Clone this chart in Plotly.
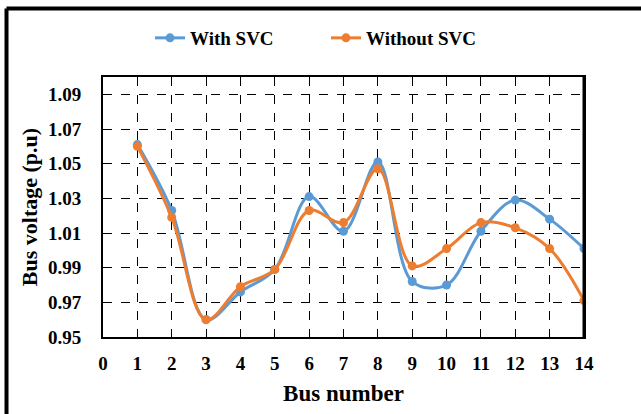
import plotly.graph_objects as go

bus = [1, 2, 3, 4, 5, 6, 7, 8, 9, 10, 11, 12, 13, 14]
with_svc = [1.061, 1.023, 0.960, 0.976, 0.989, 1.031, 1.011, 1.051, 0.982, 0.980, 1.011, 1.029, 1.018, 1.001]
without_svc = [1.060, 1.019, 0.960, 0.979, 0.989, 1.023, 1.016, 1.047, 0.991, 1.001, 1.016, 1.013, 1.001, 0.971]
x_ticks = list(range(0, 15))
y_ticks = [0.95, 0.97, 0.99, 1.01, 1.03, 1.05, 1.07, 1.09]

FONT = "Liberation Serif"
BLUE = "#5B9BD5"
ORANGE = "#ED7D31"

fig = go.Figure()
fig.add_trace(go.Scatter(x=bus, y=with_svc, name="<b>With SVC</b>", mode="lines+markers",
                         line=dict(color=BLUE, width=3, shape="spline", smoothing=1.0),
                         marker=dict(color=BLUE, size=9)))
fig.add_trace(go.Scatter(x=bus, y=without_svc, name="<b>Without SVC</b>", mode="lines+markers",
                         line=dict(color=ORANGE, width=3, shape="spline", smoothing=1.0),
                         marker=dict(color=ORANGE, size=9)))

L, R, T, B = 103, 584, 77, 337
W, H = 641, 414
pw, ph = R - L, B - T

def px(xp):
    return (xp - L) / pw

def py(yp):
    return (B - yp) / ph

fig.update_layout(
    width=W, height=H,
    margin=dict(l=L, r=W - R, t=T, b=H - B),
    paper_bgcolor="white", plot_bgcolor="white",
    font=dict(family=FONT, color="black"),
    showlegend=True,
    legend=dict(orientation="h", x=px(150), y=py(38), xanchor="left", yanchor="middle",
                font=dict(family=FONT, size=19, color="black"),
                itemwidth=30, entrywidth=131, entrywidthmode="pixels",
                bgcolor="rgba(0,0,0,0)"),
    xaxis=dict(range=[0, 14], tickmode="array", tickvals=x_ticks,
               ticktext=[f"<b>{v}</b>" for v in x_ticks],
               tickfont=dict(family=FONT, size=19, color="black"),
               showgrid=True, gridcolor="black", griddash="dash", gridwidth=1,
               zeroline=False, showline=True, linecolor="black", linewidth=2, mirror=True,
               ticks="", ticklabelstandoff=8,
               title=dict(text="<b>Bus number</b>", font=dict(family=FONT, size=23, color="black"), standoff=12)),
    yaxis=dict(range=[0.95, 1.10], tickmode="array", tickvals=y_ticks,
               ticktext=[f"<b>{v:.2f}</b>" for v in y_ticks],
               tickfont=dict(family=FONT, size=19, color="black"),
               showgrid=True, gridcolor="black", griddash="dash", gridwidth=1,
               zeroline=False, showline=True, linecolor="black", linewidth=2, mirror=True,
               ticks="", ticklabelstandoff=16,
               title=dict(text="<b>Bus voltage (p.u)</b>", font=dict(family=FONT, size=22, color="black"), standoff=4)),
)

# outer frame (left and top edges)
fig.add_shape(type="line", xref="paper", yref="paper", x0=px(6.5), x1=px(6.5), y0=py(8.5), y1=py(420),
              line=dict(color="black", width=4))
fig.add_shape(type="line", xref="paper", yref="paper", x0=px(6.5), x1=px(645), y0=py(8.5), y1=py(8.5),
              line=dict(color="black", width=4))
# thicker right border of plot
fig.add_shape(type="line", xref="paper", yref="paper", x0=1, x1=1, y0=0, y1=1,
              line=dict(color="black", width=3))

fig.write_html("out.html", config={"displayModeBar": False})

with open("out.html", "r", encoding="utf-8") as f:
    html = f.read()
html = html.replace("<head>", "<head><style>html,body{margin:0;padding:0;overflow:hidden;}</style>", 1)
with open("out.html", "w", encoding="utf-8") as f:
    f.write(html)
